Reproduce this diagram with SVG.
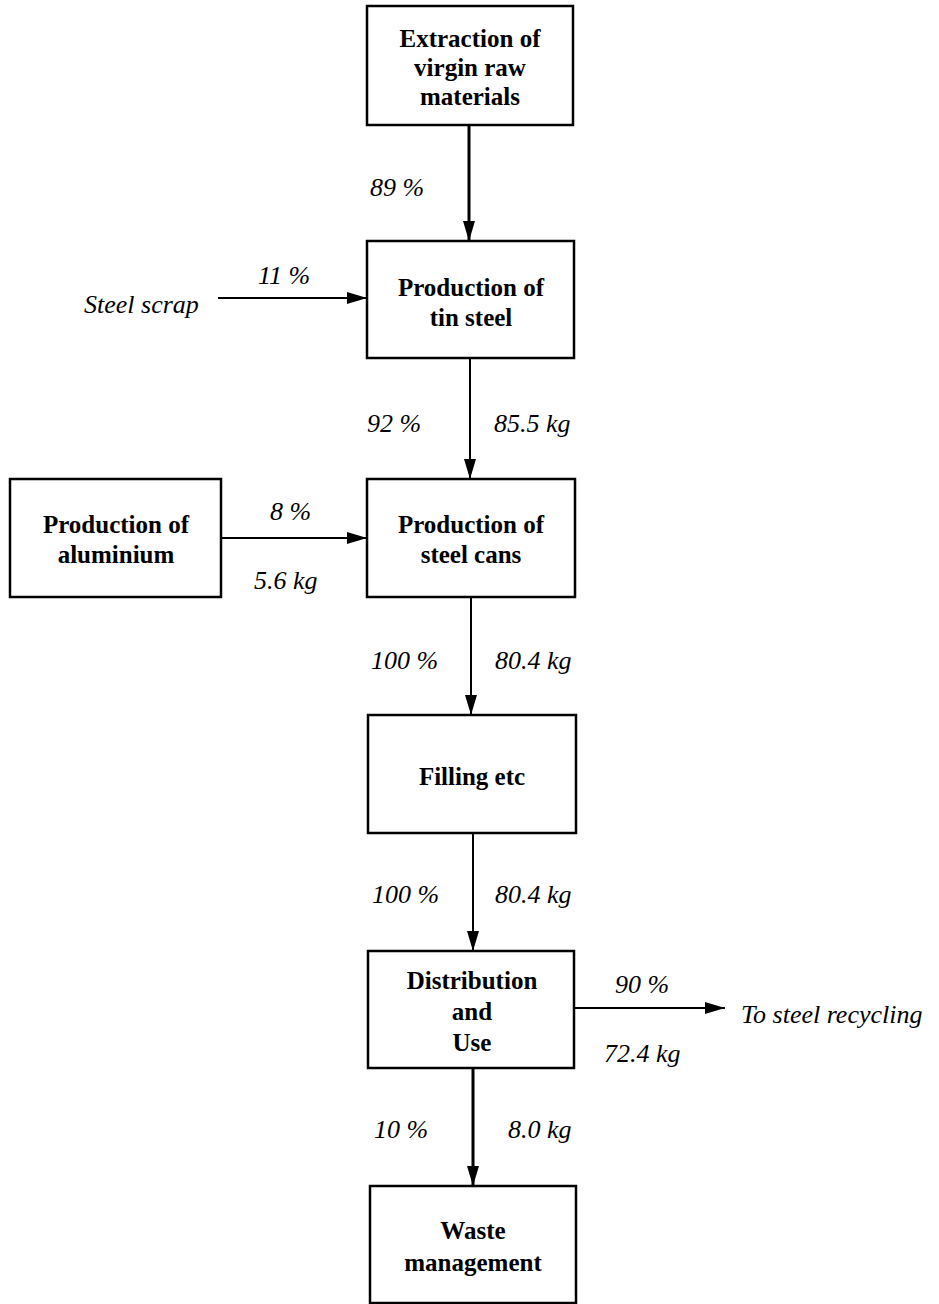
<svg xmlns="http://www.w3.org/2000/svg" width="939" height="1304" viewBox="0 0 939 1304">
  <style>
    .box { fill: #fff; stroke: #000; stroke-width: 2.5; }
    .name { font-family: "Liberation Serif", "Times New Roman", serif; font-weight: bold; font-size: 25px; text-anchor: middle; fill: #000; }
    .lbl { font-family: "Liberation Serif", "Times New Roman", serif; font-style: italic; font-size: 26px; fill: #000; }
    .flow { stroke: #000; stroke-width: 2; fill: none; marker-end: url(#head); }
    .flow.heavy { stroke-width: 3; }
  </style>
  <defs>
    <marker id="head" viewBox="0 0 20 12" refX="20" refY="6" markerWidth="20" markerHeight="12" markerUnits="userSpaceOnUse" orient="auto">
      <path d="M0,0 L20,6 L0,12 Z" fill="#000"/>
    </marker>
  </defs>
  <rect width="939" height="1304" fill="#fff"/>

  <!-- connectors -->
  <g id="connectors">
    <line class="flow heavy" x1="469" y1="125" x2="469" y2="241"/>
    <line class="flow" x1="218" y1="298" x2="367" y2="298"/>
    <line class="flow" x1="470" y1="358" x2="470" y2="479"/>
    <line class="flow" x1="221" y1="538" x2="367" y2="538"/>
    <line class="flow" x1="471" y1="597" x2="471" y2="715"/>
    <line class="flow" x1="473" y1="833" x2="473" y2="951"/>
    <line class="flow" x1="574" y1="1008" x2="725" y2="1008"/>
    <line class="flow heavy" x1="473" y1="1068" x2="473" y2="1186"/>
  </g>

  <!-- flow labels -->
  <g id="labels">
    <text class="lbl" x="370" y="196">89 %</text>
    <text class="lbl" x="258" y="284">11 %</text>
    <text class="lbl" x="84" y="313">Steel scrap</text>
    <text class="lbl" x="367" y="432">92 %</text>
    <text class="lbl" x="494" y="432">85.5 kg</text>
    <text class="lbl" x="270" y="520">8 %</text>
    <text class="lbl" x="254" y="589">5.6 kg</text>
    <text class="lbl" x="371" y="669">100 %</text>
    <text class="lbl" x="495" y="669">80.4 kg</text>
    <text class="lbl" x="372" y="903">100 %</text>
    <text class="lbl" x="495" y="903">80.4 kg</text>
    <text class="lbl" x="615" y="993">90 %</text>
    <text class="lbl" x="741" y="1023">To steel recycling</text>
    <text class="lbl" x="604" y="1062">72.4 kg</text>
    <text class="lbl" x="374" y="1138">10 %</text>
    <text class="lbl" x="508" y="1138">8.0 kg</text>
  </g>

  <g id="extraction">
    <rect class="box" x="367" y="6" width="206" height="119"/>
    <text class="name" x="470" y="47">Extraction of</text>
    <text class="name" x="470" y="76">virgin raw</text>
    <text class="name" x="470" y="105">materials</text>
  </g>

  <g id="tin-steel">
    <rect class="box" x="367" y="241" width="207" height="117"/>
    <text class="name" x="471" y="296">Production of</text>
    <text class="name" x="471" y="326">tin steel</text>
  </g>

  <g id="aluminium">
    <rect class="box" x="10" y="479" width="211" height="118"/>
    <text class="name" x="116" y="533">Production of</text>
    <text class="name" x="116" y="563">aluminium</text>
  </g>

  <g id="steel-cans">
    <rect class="box" x="367" y="479" width="208" height="118"/>
    <text class="name" x="471" y="533">Production of</text>
    <text class="name" x="471" y="563">steel cans</text>
  </g>

  <g id="filling">
    <rect class="box" x="368" y="715" width="208" height="118"/>
    <text class="name" x="472" y="785">Filling etc</text>
  </g>

  <g id="distribution">
    <rect class="box" x="368" y="951" width="206" height="117"/>
    <text class="name" x="472" y="989">Distribution</text>
    <text class="name" x="472" y="1020">and</text>
    <text class="name" x="472" y="1051">Use</text>
  </g>

  <g id="waste">
    <rect class="box" x="370" y="1186" width="206" height="117"/>
    <text class="name" x="473" y="1239">Waste</text>
    <text class="name" x="473" y="1271">management</text>
  </g>
</svg>
